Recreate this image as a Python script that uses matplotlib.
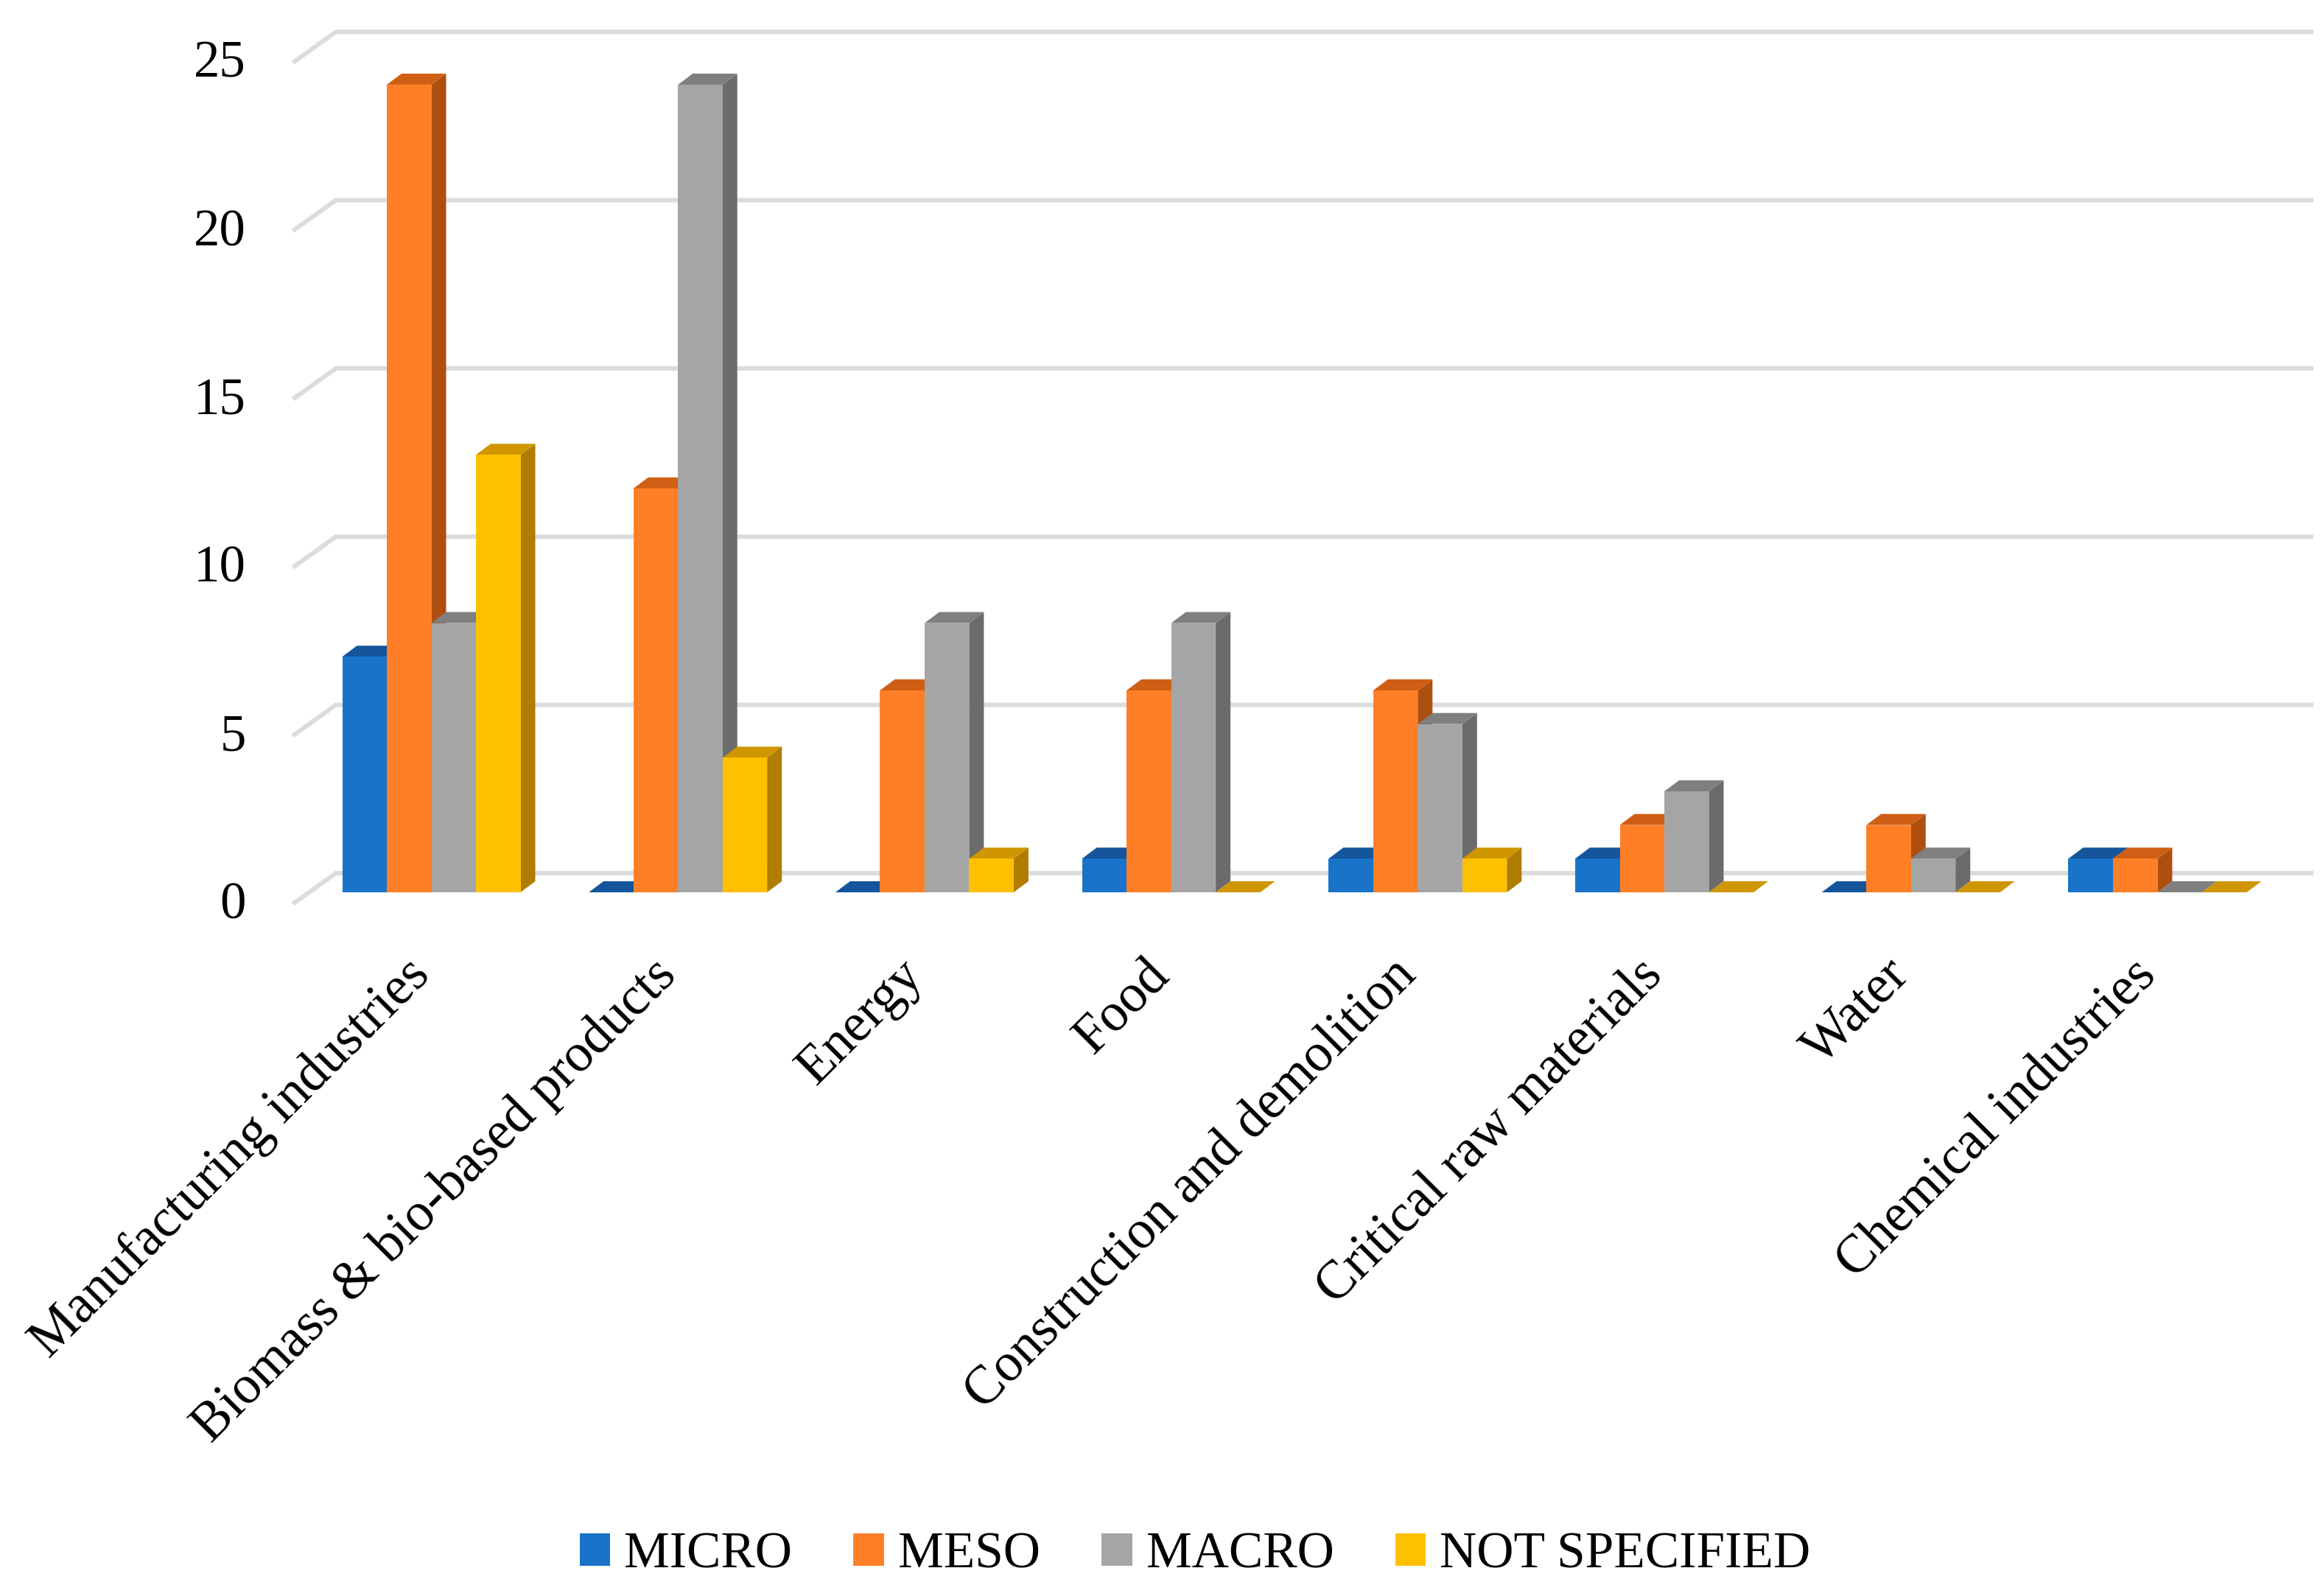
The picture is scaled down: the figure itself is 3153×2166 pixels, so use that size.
"""Pseudo-3D clustered columns: circular economy studies per sector and level."""

import matplotlib
matplotlib.use("Agg")  # headless backend
import matplotlib.pyplot as plt
from matplotlib.patches import Patch

plt.rcParams["font.family"] = ["Liberation Serif", "DejaVu Serif"]

categories = [
    "Manufacturing industries", "Biomass & bio-based products", "Energy", "Food",
    "Construction and demolition", "Critical raw materials", "Water", "Chemical industries",
]
micro = [7, 0, 0, 1, 1, 1, 0, 1]
meso = [24, 12, 6, 6, 6, 2, 2, 1]
macro = [8, 24, 8, 8, 5, 3, 1, 0]
not_specified = [13, 4, 1, 0, 1, 0, 0, 0]
series_names = ["MICRO", "MESO", "MACRO", "NOT SPECIFIED"]
y_ticks = [0, 5, 10, 15, 20, 25]

front_colors = ["#1973c9", "#ff7f27", "#a5a5a5", "#ffc000"]
top_colors = ["#14559b", "#cf5f14", "#7f7f7f", "#cf9600"]
side_colors = ["#10498a", "#ae4f10", "#6b6b6b", "#b07d00"]

W, H = 3153, 2166
PX_X = 334.7  # pixels per category
PX_Y = 45.67  # pixels per count
X0, Y0 = 585.5, 1211  # pixel position of first group centre, value 0

BAR_W = 60.5 / PX_X
DEPTH_X, DEPTH_Y = 20 / PX_X, 15 / PX_Y

fig = plt.figure(figsize=(W / 100, H / 100), dpi=100, facecolor="white")
ax = fig.add_axes([0, 0, 1, 1])
ax.set_xlim(-X0 / PX_X, (W - X0) / PX_X)
ax.set_ylim((Y0 - H) / PX_Y, Y0 / PX_Y)
for s in ax.spines.values():
    s.set_visible(False)

# gridlines: slanted stub on the floor, then along the back wall
grid_left = (400 - X0) / PX_X
grid_back = (456 - X0) / PX_X
grid_right = (3137 - X0) / PX_X
for v in y_ticks:
    ax.plot([grid_left, grid_back, grid_right],
            [v - 14 / PX_Y, v + 26 / PX_Y, v + 26 / PX_Y],
            color="#dcdcdc", lw=4.4, solid_joinstyle="miter", zorder=1)
    ax.text((334 - X0) / PX_X, v - 18 / PX_Y, str(v), ha="right", va="center",
            fontsize=51, color="black")

# columns, left to right so later ones hide the side faces of earlier ones
all_series = [micro, meso, macro, not_specified]
z = 2
for i in range(len(categories)):
    for j, vals in enumerate(all_series):
        v = vals[i]
        x0 = i + (j - 2) * BAR_W
        x1 = x0 + BAR_W
        ax.fill([x1, x1 + DEPTH_X, x1 + DEPTH_X, x1],
                [0, DEPTH_Y, v + DEPTH_Y, v], color=side_colors[j], lw=0, zorder=z)
        ax.fill([x0, x0 + DEPTH_X, x1 + DEPTH_X, x1],
                [v, v + DEPTH_Y, v + DEPTH_Y, v], color=top_colors[j], lw=0, zorder=z)
        if v > 0:
            ax.fill([x0, x1, x1, x0], [0, 0, v, v], color=front_colors[j], lw=0, zorder=z)
        z += 1

ax.set_yticks([])
ax.set_xticks(range(len(categories)))
ax.set_xticklabels(categories, rotation=45, ha="right", va="baseline",
                   rotation_mode="anchor", fontsize=52.5)
ax.tick_params(axis="x", length=0, direction="in", pad=-605)

handles = [Patch(color=c, lw=0) for c in front_colors]
leg = ax.legend(handles, series_names, ncol=4, frameon=False, fontsize=50,
                loc="center", bbox_to_anchor=(1622 / W, 1 - 2111 / H),
                handlelength=0.6, handleheight=0.6, handletextpad=0.27,
                columnspacing=1.2, borderpad=0, borderaxespad=0)

fig.savefig("out.png", dpi=100)
plt.close(fig)
